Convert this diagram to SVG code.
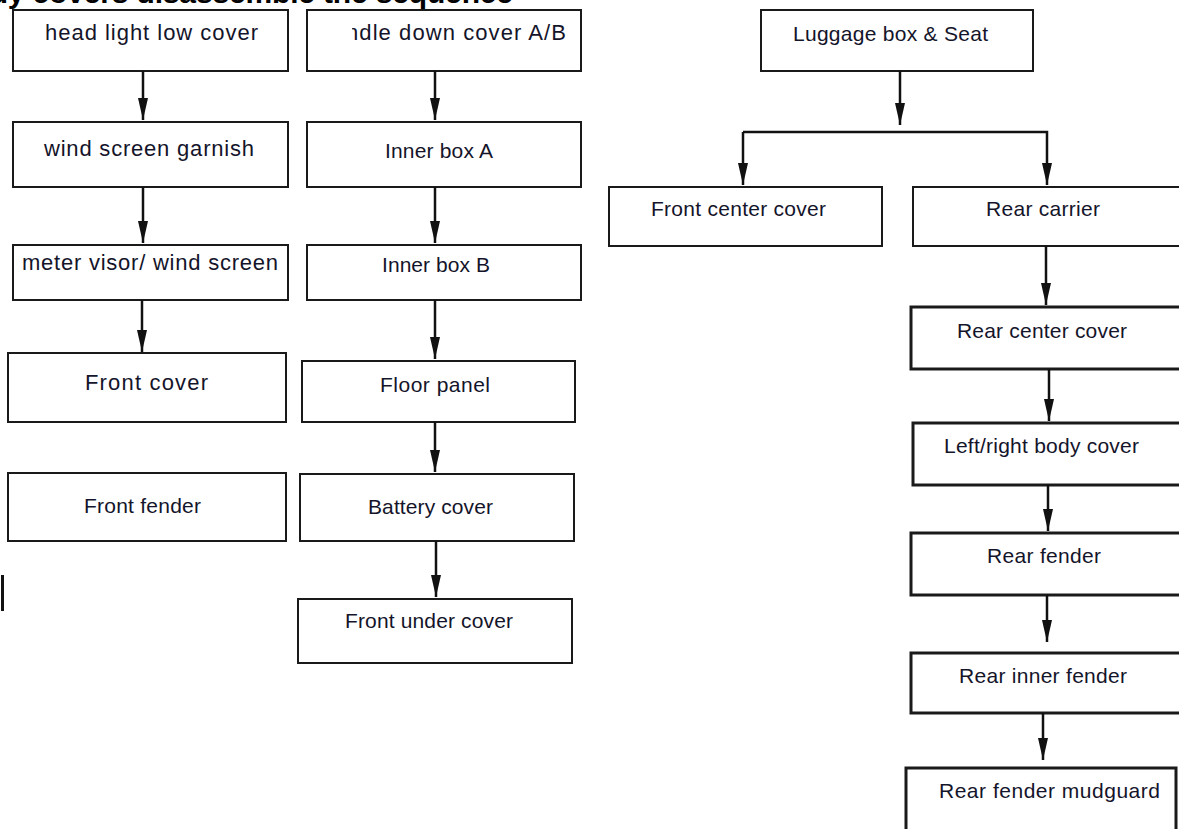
<svg xmlns="http://www.w3.org/2000/svg" width="1179" height="829" viewBox="0 0 1179 829">
<style>
.box{fill:#fff;stroke:#1a1a1a;stroke-width:2}
.thick{stroke-width:3}
.lbl{font-family:"Liberation Sans",Arial,sans-serif;font-size:21px;fill:#14142a}
.big{font-size:22px}
.title{font-family:"Liberation Sans",Arial,sans-serif;font-size:30px;font-weight:bold;fill:#000}
.conn line,.conn path{stroke:#111;stroke-width:2.5;fill:none}
</style>
<defs>
<marker id="ah" markerUnits="userSpaceOnUse" markerWidth="22" markerHeight="10" refX="22" refY="5" orient="auto" viewBox="0 0 22 10">
<path d="M0,0 L22,5 L0,10 z" fill="#111"/>
</marker>
<clipPath id="clipH"><rect x="352" y="0" width="240" height="80"/></clipPath>
</defs>
<rect width="1179" height="829" fill="#fff"/>
<text class="title" x="-50" y="3" textLength="563" lengthAdjust="spacing">Body covers disassemble the sequence</text>
<line x1="2.5" y1="575" x2="2.5" y2="611" stroke="#111" stroke-width="3"/>

<g id="n-headlight"><rect class="box" x="13" y="10" width="275" height="61"/><text class="lbl big" x="45" y="40" textLength="213" lengthAdjust="spacing">head light low cover</text></g>
<g id="n-windgarnish"><rect class="box" x="13" y="122" width="275" height="65"/><text class="lbl big" x="44" y="156" textLength="210" lengthAdjust="spacing">wind screen garnish</text></g>
<g id="n-metervisor"><rect class="box" x="13" y="245" width="275" height="55"/><text class="lbl big" x="22" y="270" textLength="256" lengthAdjust="spacing">meter visor/ wind screen</text></g>
<g id="n-frontcover"><rect class="box" x="8" y="353" width="278" height="69"/><text class="lbl big" x="85" y="390" textLength="123" lengthAdjust="spacing">Front cover</text></g>
<g id="n-frontfender"><rect class="box" x="8" y="473" width="278" height="68"/><text class="lbl" x="84" y="513" textLength="117" lengthAdjust="spacing">Front fender</text></g>

<g id="n-handle"><rect class="box" x="307" y="10" width="274" height="61"/><text class="lbl big" x="346" y="40" textLength="220" lengthAdjust="spacing" clip-path="url(#clipH)">ndle down cover A/B</text></g>
<g id="n-innerA"><rect class="box" x="307" y="122" width="274" height="65"/><text class="lbl" x="385" y="158" textLength="108" lengthAdjust="spacing">Inner box A</text></g>
<g id="n-innerB"><rect class="box" x="307" y="245" width="274" height="55"/><text class="lbl" x="382" y="272" textLength="108" lengthAdjust="spacing">Inner box B</text></g>
<g id="n-floor"><rect class="box" x="302" y="361" width="273" height="61"/><text class="lbl" x="380" y="392" textLength="110" lengthAdjust="spacing">Floor panel</text></g>
<g id="n-battery"><rect class="box" x="300" y="474" width="274" height="67"/><text class="lbl" x="368" y="514" textLength="125" lengthAdjust="spacing">Battery cover</text></g>
<g id="n-frontunder"><rect class="box" x="298" y="599" width="274" height="64" stroke-width="3.5"/><text class="lbl" x="345" y="628" textLength="168" lengthAdjust="spacing">Front under cover</text></g>

<g id="n-luggage"><rect class="box" x="761" y="10" width="272" height="61"/><text class="lbl" x="793" y="41" textLength="195" lengthAdjust="spacing">Luggage box &amp; Seat</text></g>
<g id="n-frontcenter"><rect class="box" x="609" y="187" width="273" height="59"/><text class="lbl" x="651" y="216" textLength="175" lengthAdjust="spacing">Front center cover</text></g>
<g id="n-rearcarrier"><rect class="box" x="913" y="187" width="275" height="59"/><text class="lbl" x="986" y="216" textLength="114" lengthAdjust="spacing">Rear carrier</text></g>
<g id="n-rearcenter"><rect class="box thick" x="911" y="307" width="277" height="62"/><text class="lbl" x="957" y="338" textLength="170" lengthAdjust="spacing">Rear center cover</text></g>
<g id="n-lrbody"><rect class="box thick" x="913" y="423" width="275" height="62"/><text class="lbl" x="944" y="453" textLength="195" lengthAdjust="spacing">Left/right body cover</text></g>
<g id="n-rearfender"><rect class="box thick" x="911" y="533" width="277" height="62"/><text class="lbl" x="987" y="563" textLength="114" lengthAdjust="spacing">Rear fender</text></g>
<g id="n-rearinner"><rect class="box thick" x="911" y="653" width="277" height="60"/><text class="lbl" x="959" y="683" textLength="168" lengthAdjust="spacing">Rear inner fender</text></g>
<g id="n-mudguard"><rect class="box thick" x="906" y="768" width="270" height="72"/><text class="lbl" x="939" y="798" textLength="221" lengthAdjust="spacing">Rear fender mudguard</text></g>

<g id="connectors" class="conn">
<line x1="143" y1="71" x2="143" y2="120" marker-end="url(#ah)"/>
<line x1="143" y1="187" x2="143" y2="243" marker-end="url(#ah)"/>
<line x1="142" y1="300" x2="142" y2="352" marker-end="url(#ah)"/>
<line x1="435" y1="71" x2="435" y2="120" marker-end="url(#ah)"/>
<line x1="435" y1="187" x2="435" y2="243" marker-end="url(#ah)"/>
<line x1="435" y1="300" x2="435" y2="359" marker-end="url(#ah)"/>
<line x1="435" y1="422" x2="435" y2="472" marker-end="url(#ah)"/>
<line x1="436" y1="541" x2="436" y2="597" marker-end="url(#ah)"/>
<line x1="900" y1="71" x2="900" y2="125" marker-end="url(#ah)"/>
<path d="M743,132 H1047 V185" marker-end="url(#ah)"/>
<path d="M743,132 V185" marker-end="url(#ah)"/>
<line x1="1046" y1="246" x2="1046" y2="305" marker-end="url(#ah)"/>
<line x1="1049" y1="369" x2="1049" y2="421" marker-end="url(#ah)"/>
<line x1="1048" y1="485" x2="1048" y2="531" marker-end="url(#ah)"/>
<line x1="1047" y1="595" x2="1047" y2="642" marker-end="url(#ah)"/>
<line x1="1043" y1="713" x2="1043" y2="760" marker-end="url(#ah)"/>
</g>
</svg>
